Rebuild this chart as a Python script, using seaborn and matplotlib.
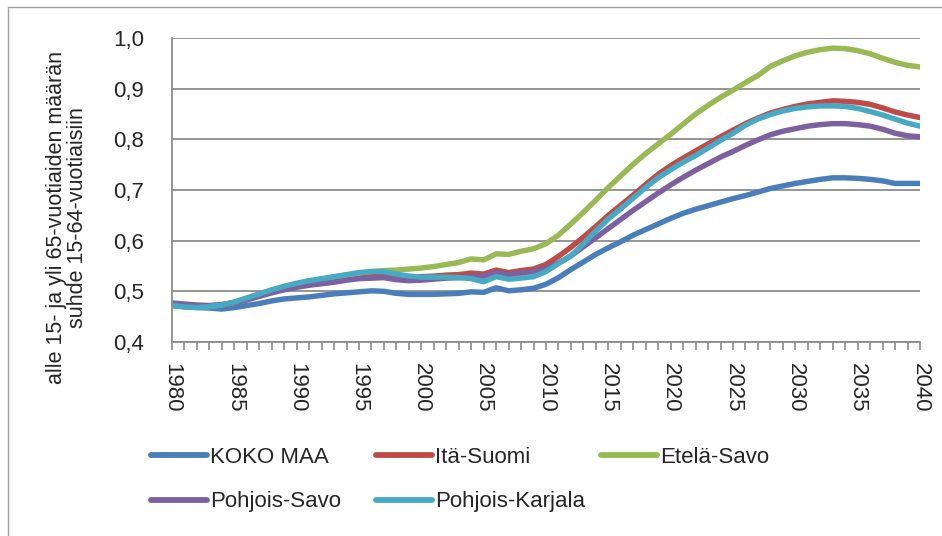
import numpy as np
import pandas as pd
import matplotlib
matplotlib.use("Agg")
import matplotlib.pyplot as plt
import seaborn as sns
from matplotlib.lines import Line2D
from matplotlib.ticker import FuncFormatter, MultipleLocator

years = list(range(1980, 2041))

koko_maa = [0.472, 0.470, 0.468, 0.467, 0.465, 0.468, 0.472, 0.476, 0.481, 0.485,
            0.487, 0.489, 0.492, 0.495, 0.497, 0.499, 0.501, 0.500, 0.496, 0.494,
            0.494, 0.494, 0.495, 0.496, 0.499, 0.498, 0.507, 0.501, 0.503, 0.506,
            0.514, 0.527, 0.543, 0.558, 0.573, 0.586, 0.598, 0.611, 0.622, 0.633,
            0.644, 0.654, 0.662, 0.669, 0.676, 0.683, 0.689, 0.696, 0.703, 0.708,
            0.713, 0.717, 0.721, 0.724, 0.724, 0.723, 0.721, 0.718, 0.713, 0.713,
            0.713]

ita_suomi = [0.474, 0.472, 0.470, 0.471, 0.473, 0.477, 0.484, 0.492, 0.499, 0.505,
             0.510, 0.514, 0.518, 0.521, 0.524, 0.527, 0.530, 0.531, 0.529, 0.528,
             0.529, 0.530, 0.532, 0.533, 0.536, 0.534, 0.542, 0.537, 0.541, 0.544,
             0.553, 0.569, 0.587, 0.607, 0.628, 0.650, 0.670, 0.690, 0.711, 0.731,
             0.748, 0.763, 0.777, 0.791, 0.805, 0.818, 0.831, 0.842, 0.852, 0.859,
             0.865, 0.870, 0.873, 0.876, 0.875, 0.873, 0.869, 0.862, 0.854, 0.848,
             0.843]

etela_savo = [0.473, 0.470, 0.469, 0.470, 0.473, 0.478, 0.486, 0.494, 0.502, 0.509,
              0.515, 0.520, 0.524, 0.528, 0.532, 0.536, 0.539, 0.541, 0.542, 0.544,
              0.546, 0.549, 0.553, 0.557, 0.564, 0.562, 0.574, 0.573, 0.579, 0.584,
              0.594, 0.611, 0.633, 0.656, 0.680, 0.705, 0.728, 0.751, 0.772, 0.791,
              0.810, 0.830, 0.850, 0.867, 0.883, 0.897, 0.912, 0.926, 0.944, 0.955,
              0.965, 0.972, 0.977, 0.980, 0.979, 0.975, 0.969, 0.960, 0.952, 0.946,
              0.943]

pohjois_savo = [0.477, 0.475, 0.473, 0.472, 0.474, 0.478, 0.483, 0.490, 0.497, 0.503,
                0.508, 0.512, 0.515, 0.518, 0.522, 0.525, 0.526, 0.527, 0.523, 0.521,
                0.522, 0.524, 0.526, 0.527, 0.529, 0.530, 0.537, 0.533, 0.536, 0.539,
                0.546, 0.556, 0.570, 0.588, 0.606, 0.624, 0.642, 0.660, 0.677, 0.694,
                0.710, 0.725, 0.739, 0.752, 0.765, 0.776, 0.788, 0.799, 0.809, 0.816,
                0.821, 0.826, 0.829, 0.831, 0.831, 0.829, 0.826, 0.820, 0.812, 0.807,
                0.805]

pohjois_karjala = [0.472, 0.469, 0.468, 0.470, 0.473, 0.479, 0.487, 0.495, 0.503, 0.510,
                   0.516, 0.521, 0.525, 0.529, 0.533, 0.537, 0.539, 0.539, 0.534, 0.530,
                   0.528, 0.528, 0.528, 0.527, 0.525, 0.519, 0.529, 0.524, 0.526, 0.529,
                   0.539, 0.555, 0.570, 0.594, 0.619, 0.643, 0.663, 0.684, 0.705, 0.724,
                   0.740, 0.755, 0.768, 0.783, 0.798, 0.812, 0.828, 0.840, 0.849, 0.856,
                   0.861, 0.864, 0.866, 0.866, 0.865, 0.861, 0.855, 0.848, 0.840, 0.832,
                   0.826]

series = ["KOKO MAA", "Itä-Suomi", "Etelä-Savo", "Pohjois-Savo", "Pohjois-Karjala"]
colors = ["#4A7EBB", "#BE4B48", "#98B954", "#7D60A0", "#46AAC5"]

df = pd.DataFrame({
    "vuosi": years * 5,
    "arvo": koko_maa + ita_suomi + etela_savo + pohjois_savo + pohjois_karjala,
    "alue": sum([[s] * len(years) for s in series], []),
})

sns.set_style("white")
plt.rcParams["font.family"] = ["Liberation Sans", "DejaVu Sans"]

fig = plt.figure(figsize=(9.42, 5.36), dpi=100)
ax = fig.add_axes([172 / 942, 1 - 342 / 536, (920 - 172) / 942, (342 - 38) / 536])

sns.lineplot(data=df, x="vuosi", y="arvo", hue="alue", hue_order=series,
             palette=colors, linewidth=3.9, ax=ax, legend=False)
for ln in ax.lines:
    ln.set_solid_capstyle("round")
    ln.set_solid_joinstyle("round")

ax.set_xlim(1980, 2040)
ax.set_ylim(0.4, 1.0)
ax.yaxis.set_major_locator(MultipleLocator(0.1))
ax.yaxis.set_major_formatter(FuncFormatter(lambda v, p: f"{v:.1f}".replace(".", ",")))
ax.grid(axis="y", color="#8C8C8C", linewidth=1.3)
ax.set_axisbelow(True)

ax.set_xticks(range(1980, 2041, 5))
ax.set_xticks(range(1980, 2041), minor=True)
ax.set_xticklabels([str(y) for y in range(1980, 2041, 5)], rotation=270, fontsize=16)
ax.tick_params(axis="x", which="both", direction="out", length=6, color="#8C8C8C",
               width=1.2, bottom=True, pad=9)
ax.tick_params(axis="y", length=0, labelsize=16, pad=20)

for side in ["top", "right"]:
    ax.spines[side].set_visible(False)
for side in ["left", "bottom"]:
    ax.spines[side].set_color("#8C8C8C")
    ax.spines[side].set_linewidth(1.3)

ax.set_xlabel("")
ax.set_ylabel("alle 15- ja yli 65-vuotiaiden määrän\nsuhde 15-64-vuotiaisiin",
              fontsize=15.5, linespacing=1.0)
ax.yaxis.set_label_coords(-0.14, 0.41)
ax.yaxis.label.set_verticalalignment("center")

# legend: one column at a time, like the Excel layout
columns = [([0, 3], 131), ([1, 4], 356), ([2], 581)]
for idx, x0 in columns:
    hs = [Line2D([], [], color=colors[i], linewidth=4.2) for i in idx]
    lg = fig.legend(hs, [series[i] for i in idx], loc="upper left",
                    bbox_to_anchor=(x0 / 942, 1 - 427 / 536), frameon=False,
                    fontsize=16, handlelength=2.5, handletextpad=0.15, labelspacing=1.05)

fig.add_artist(Line2D([8 / 942, 8 / 942], [0, 1 - 7 / 536], color="#A0A0A0", linewidth=1))
fig.add_artist(Line2D([8 / 942, 1], [1 - 7 / 536, 1 - 7 / 536], color="#A0A0A0", linewidth=1))

fig.savefig("out.png", dpi=100)
